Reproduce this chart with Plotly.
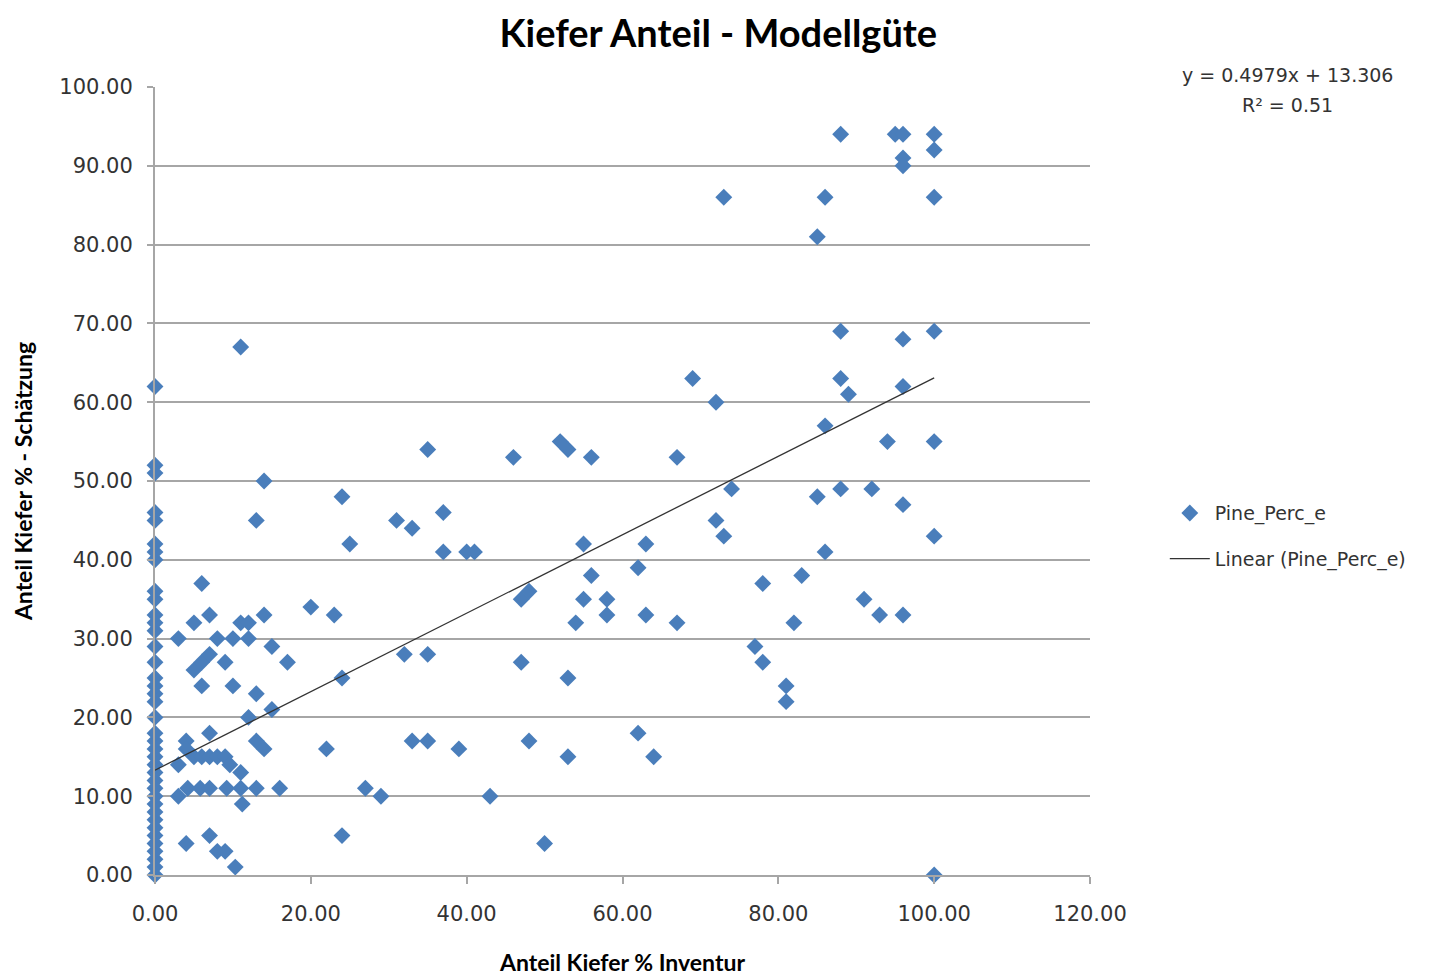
import plotly.graph_objects as go

# Inventory share (x) and estimated share (y) of pine, in percent
x_zero_col = [0] * 38
y_zero_col = [0, 1, 2, 3, 4, 5, 6, 7, 8, 9, 10, 11, 12, 13, 14, 15, 16, 17, 18,
              20, 22, 23, 24, 25, 27, 29, 31, 32, 33, 35, 36, 40, 41, 42, 45, 46, 51, 52]
x_zero_extra = [0]
y_zero_extra = [62]

x_low = [3, 5, 6, 7, 11, 11, 12, 13, 14, 14, 10, 12, 8, 9, 5, 6, 7, 6, 10, 13, 15, 17,
         12, 15, 13, 14, 4, 4, 7, 3, 5, 6, 7, 8, 9, 9.6, 11, 4.2, 5.8, 7, 9.2, 11, 13, 16,
         3, 11.2, 4, 7, 8, 9, 10.3]
y_low = [30, 32, 37, 33, 67, 32, 32, 45, 50, 33, 30, 30, 30, 27, 26, 27, 28, 24, 24, 23, 29, 27,
         20, 21, 17, 16, 17, 16, 18, 14, 15, 15, 15, 15, 15, 14, 13, 11, 11, 11, 11, 11, 11, 11,
         10, 9, 4, 5, 3, 3, 1]

x_mid = [35, 46, 52, 53, 56, 24, 31, 33, 37, 25, 37, 40, 41, 55, 56, 47, 48, 55, 58, 58, 54,
         20, 23, 32, 35, 47, 24, 53, 22, 33, 35, 39, 48, 53, 27, 29, 43, 24, 50]
y_mid = [54, 53, 55, 54, 53, 48, 45, 44, 46, 42, 41, 41, 41, 42, 38, 35, 36, 35, 35, 33, 32,
         34, 33, 28, 28, 27, 25, 25, 16, 17, 17, 16, 17, 15, 11, 10, 10, 5, 4]

x_high = [88, 96, 100, 69, 88, 89, 96, 72, 86, 67, 94, 100, 74, 85, 88, 92, 96, 72, 73, 63, 100,
          86, 62, 83, 78, 63, 67, 82, 91, 93, 96, 77, 78, 81, 81, 62, 64,
          88, 95, 96, 100, 100, 96, 96, 73, 86, 100, 85, 100]
y_high = [69, 68, 69, 63, 63, 61, 62, 60, 57, 53, 55, 55, 49, 48, 49, 49, 47, 45, 43, 42, 43,
          41, 39, 38, 37, 33, 32, 32, 35, 33, 33, 29, 27, 24, 22, 18, 15,
          94, 94, 94, 94, 92, 91, 90, 86, 86, 86, 81, 0]

x_vals = x_zero_col + x_zero_extra + x_low + x_mid + x_high
y_vals = y_zero_col + y_zero_extra + y_low + y_mid + y_high

trend_slope = 0.4979
trend_intercept = 13.306
trend_r2 = 0.51
trend_x = [0, 100]
trend_y = [trend_slope * v + trend_intercept for v in trend_x]

x_ticks = [0, 20, 40, 60, 80, 100, 120]
y_ticks = [0, 10, 20, 30, 40, 50, 60, 70, 80, 90, 100]

blue = "#4A7EBB"
tick_font = dict(family="DejaVu Sans", size=21, color="#333333")
bold_font = "Lato"

fig = go.Figure()
fig.add_trace(go.Scatter(
    x=x_vals, y=y_vals, mode="markers", name="Pine_Perc_e", legendgroup="a",
    marker=dict(symbol="diamond", size=13, color=blue, line=dict(width=0)),
    cliponaxis=False,
))
fig.add_trace(go.Scatter(
    x=trend_x, y=trend_y, mode="lines", name="Linear (Pine_Perc_e)", legendgroup="b",
    line=dict(color="#333333", width=1.3),
))

fig.update_layout(
    width=1435, height=979,
    margin=dict(l=147, r=353, t=79, b=112),
    paper_bgcolor="white", plot_bgcolor="white",
    title=dict(text="<b>Kiefer Anteil - Modellgüte</b>", x=0.495, xanchor="center",
               y=0.974, yanchor="middle",
               font=dict(family=bold_font, size=38, color="black")),
    showlegend=True,
    legend=dict(x=1.08, y=0.43, xanchor="left", yanchor="middle",
                font=dict(family="DejaVu Sans", size=19, color="#333333"),
                bgcolor="rgba(0,0,0,0)", itemwidth=40, tracegroupgap=18),
    annotations=[
        dict(text=f"y = {trend_slope}x + {trend_intercept}",
             xref="paper", yref="paper", x=1.211, y=1.015, xanchor="center", yanchor="middle",
             showarrow=False, font=dict(family="DejaVu Sans", size=19, color="#333333")),
        dict(text=f"R² = {trend_r2}",
             xref="paper", yref="paper", x=1.211, y=0.977, xanchor="center", yanchor="middle",
             showarrow=False, font=dict(family="DejaVu Sans", size=19, color="#333333")),
    ],
)

fig.update_xaxes(
    range=[0, 120], tickvals=x_ticks, tickformat=".2f",
    showgrid=False, zeroline=False,
    showline=True, linecolor="#A6A6A6", linewidth=2,
    ticks="outside", ticklen=7, tickcolor="#A6A6A6", tickwidth=2,
    tickfont=tick_font, ticklabelstandoff=12,
    title=dict(text="<b>Anteil Kiefer % Inventur</b>", standoff=30,
               font=dict(family=bold_font, size=23, color="black")),
)
fig.update_yaxes(
    range=[0, 100], tickvals=y_ticks, tickformat=".2f",
    showgrid=True, gridcolor="#A6A6A6", gridwidth=2, zeroline=False,
    showline=True, linecolor="#A6A6A6", linewidth=2,
    ticks="outside", ticklen=6, tickcolor="#A6A6A6", tickwidth=2,
    tickfont=tick_font, ticklabelstandoff=10,
    title=dict(text="<b>Anteil Kiefer % - Schätzung</b>", standoff=20,
               font=dict(family=bold_font, size=23, color="black")),
)

fig.write_html("out.html")
